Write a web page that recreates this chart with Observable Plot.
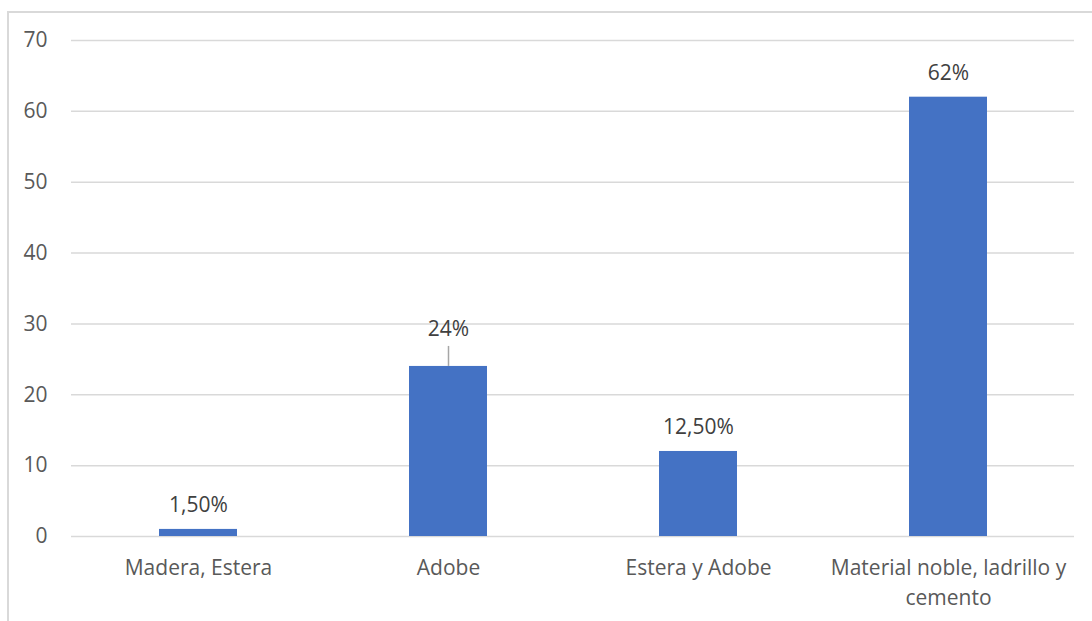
<!DOCTYPE html>
<html>
<head>
<meta charset="utf-8">
<script src="https://cdn.jsdelivr.net/npm/d3@7"></script>
<script src="https://cdn.jsdelivr.net/npm/@observablehq/plot@0.6"></script>
<style>
  html, body { margin: 0; padding: 0; background: #fff; }
  #wrap { position: relative; width: 1092px; height: 621px; overflow: hidden; }
  #border { position: absolute; left: 7px; top: 11px; width: 1200px; height: 700px; border: 2px solid #d9d9d9; box-sizing: border-box; pointer-events: none; }
</style>
</head>
<body>
<div id="wrap"><div id="border"></div></div>
<script>
const categories = ["Madera, Estera", "Adobe", "Estera y Adobe", "Material noble, ladrillo y\ncemento"];
const values = [1, 24, 12, 62];
const valueLabels = ["1,50%", "24%", "12,50%", "62%"];
const yTicks = [0, 10, 20, 30, 40, 50, 60, 70];

const data = categories.map((c, i) => ({ category: c, value: values[i], label: valueLabels[i] }));
const font = "'Open Sans', 'Noto Sans', sans-serif";
const gray = "#595959";

const chart = Plot.plot({
  width: 1092,
  height: 621,
  marginLeft: 71,
  marginRight: 18,
  marginTop: 40,
  marginBottom: 85,
  style: { fontFamily: font, fontSize: "21px", color: gray, background: "transparent" },
  x: { domain: categories, paddingInner: 0.69, paddingOuter: 0.345, label: null },
  y: { domain: [0, 70], label: null },
  marks: [
    Plot.gridY(yTicks, { stroke: "#d9d9d9", strokeOpacity: 1, strokeWidth: 1.5 }),
    Plot.axisY(yTicks, { tickSize: 0, tickPadding: 24, fill: gray, fontSize: 21, label: null }),
    Plot.axisX({ tickSize: 0, tickPadding: 17, fill: gray, fontSize: 21, label: null, lineHeight: 1.43 }),
    Plot.barY(data, { x: "category", y: "value", fill: "#4472c4" }),
    Plot.ruleX(data.filter(d => d.category === "Adobe"), { x: "category", y1: "value", y2: "value", insetTop: -20, stroke: "#a6a6a6", strokeWidth: 1.5 }),
    Plot.text(data.filter(d => d.category !== "Adobe"), { x: "category", y: "value", text: "label", dy: -24, fill: "#404040", fontSize: 21 }),
    Plot.text(data.filter(d => d.category === "Adobe"), { x: "category", y: "value", text: "label", dy: -37, fill: "#404040", fontSize: 21 })
  ]
});
document.getElementById("wrap").prepend(chart);
</script>
</body>
</html>
